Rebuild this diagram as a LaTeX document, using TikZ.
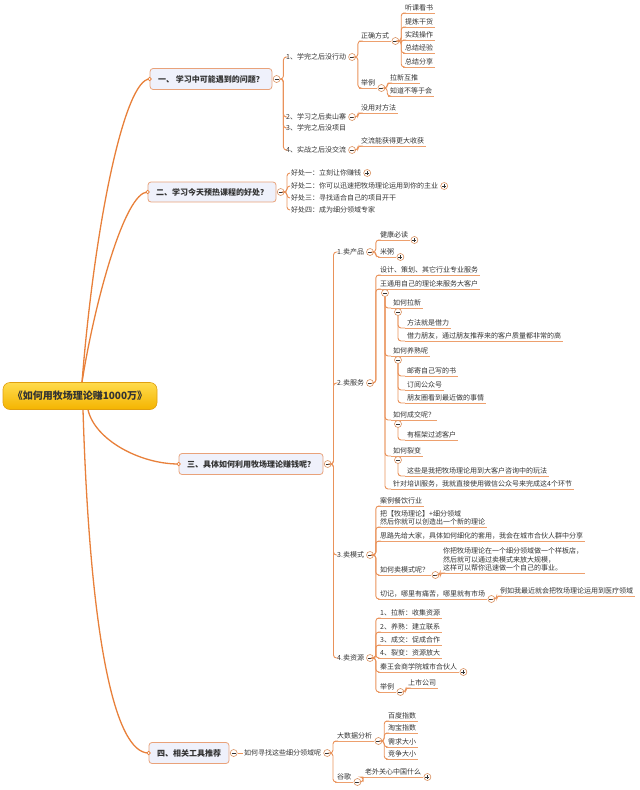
\documentclass[tikz,border=0pt]{standalone}
\usepackage{fontspec}
\setmainfont{Noto Sans CJK SC}
\usepackage{xcolor}
\usepackage{tikz}
\usetikzlibrary{positioning}

\definecolor{trunkC}{HTML}{E8803A}
\definecolor{lineC}{HTML}{E9925A}
\definecolor{ulC}{HTML}{EDA06E}
\definecolor{secF}{HTML}{EFF1FB}
\definecolor{secB}{HTML}{E9A27A}
\definecolor{rootT}{HTML}{FFDB4D}
\definecolor{rootB}{HTML}{F4B400}
\definecolor{rootD}{HTML}{E0A010}
\definecolor{txtC}{HTML}{333333}
\definecolor{togC}{HTML}{D9905F}

\newcommand{\itemfont}{\fontsize{7}{8.6}\selectfont}
\newcommand{\secfont}{\fontsize{8}{10}\selectfont\bfseries}
\newcommand{\rootfont}{\fontsize{10}{12}\selectfont\bfseries}

\tikzset{
  tog/.style={circle, draw=togC, fill=white, minimum size=7pt, inner sep=0pt, line width=0.6pt},
  minus/.style={tog, path picture={\draw[txtC, line width=0.6pt] ([xshift=-2pt]path picture bounding box.center) -- ([xshift=2pt]path picture bounding box.center);}},
  plus/.style={tog, path picture={\draw[txtC, line width=0.6pt] ([xshift=-2pt]path picture bounding box.center) -- ([xshift=2pt]path picture bounding box.center) ([yshift=-2pt]path picture bounding box.center) -- ([yshift=2pt]path picture bounding box.center);}},
}

\begin{document}
\begin{tikzpicture}[x=1pt, y=-1pt, font=\itemfont, text=txtC,
  root/.style={rounded corners=7pt, top color=rootT, bottom color=rootB, draw=rootD, line width=0.6pt, font=\rootfont, minimum width=154pt, minimum height=27pt},
  sec/.style={draw=secB, fill=secF, rounded corners=3pt, line width=0.8pt, font=\secfont, inner xsep=8pt, minimum height=21pt},
  trunk/.style={draw=trunkC, line width=1.3pt},
  conn/.style={draw=lineC, line width=0.9pt, rounded corners=3pt},
  lv/.style={anchor=west, inner sep=1pt},
  ul/.style={anchor=south west, inner xsep=2pt, inner ysep=1.3pt, align=left, append after command={(\tikzlastnode.south west) edge[draw=ulC, line width=0.8pt] (\tikzlastnode.south east)}},
  tip/.style={circle, draw=trunkC, fill=white, inner sep=0pt, minimum size=3.5pt, line width=0.7pt}]
\useasboundingbox (0,0) rectangle (640,790);

% root and the four sections
\node[root] (root) at (80,396) {《如何用牧场理论赚1000万》};
\node[sec] (s1) at (211,79) {一、 学习中可能遇到的问题？};
\node[sec, minimum height=20pt] (s2) at (212,192) {二、学习今天预热课程的好处？};
\node[sec] (s3) at (251,464) {三、具体如何利用牧场理论赚钱呢？};
\node[sec] (s4) at (189,753) {四、相关工具推荐};
\node[minus, right=0.5pt of s1] (s1t) {};
\node[minus, right=0.5pt of s2] (s2t) {};
\node[minus, right=0.5pt of s3] (s3t) {};
\node[minus, right=0.5pt of s4] (s4t) {};

\draw[trunk] ([xshift=2pt]root.north) .. controls (95,220) and (125,79) .. (s1.west);
\draw[trunk] ([xshift=2pt]root.north) .. controls (95,300) and (125,192) .. (s2.west);
\draw[trunk] ([xshift=8pt]root.south) .. controls (95,440) and (140,464) .. (s3.west);
\draw[trunk] ([xshift=3pt]root.south) .. controls (90,640) and (115,753) .. (s4.west);
\node[tip] (s1d) at (s1.west) {};
\node[tip] (s2d) at (s2.west) {};
\node[tip] (s3d) at (s3.west) {};
\node[tip] (s4d) at (s4.west) {};

% section 1
\node[lv] (a1) at (285,57) {1、学完之后没行动};
\node[minus, right=1pt of a1] (a1t) {};
\node[lv] (a2) at (285,117) {2、学习之后卖山寨};
\node[minus, right=1pt of a2] (a2t) {};
\node[lv] (a3) at (285,128) {3、学完之后没项目};
\node[lv] (a4) at (285,150) {4、实战之后没交流};
\node[minus, right=1pt of a4] (a4t) {};
\node[ul] (b1) at (359,41) {正确方式};
\node[minus] (b1t) at ([xshift=4pt]b1.south east) {};
\node[ul] (b2) at (359,88) {举例};
\node[minus] (b2t) at ([xshift=4pt]b2.south east) {};
\node[ul] (b11) at (403,13) {听课看书};
\node[ul] (b12) at (403,27) {提炼干货};
\node[ul] (b13) at (403,40) {实践操作};
\node[ul] (b14) at (403,53) {总结经验};
\node[ul] (b15) at (403,67) {总结分享};
\node[ul] (b21) at (388,83) {拉新互推};
\node[ul] (b22) at (388,96) {知道不等于会};
\node[ul] (a21) at (359,113) {没用对方法};
\node[ul] (a41) at (359,146) {交流能获得更大收获};
\draw[conn] (s1t.east) -- ++(3,0) |- (a1.west);
\draw[conn] (s1t.east) -- ++(3,0) |- (a2.west);
\draw[conn] (s1t.east) -- ++(3,0) |- (a3.west);
\draw[conn] (s1t.east) -- ++(3,0) |- (a4.west);
\draw[conn] (a1t.east) -- ++(2,0) |- (b1.south west);
\draw[conn] (a1t.east) -- ++(2,0) |- (b2.south west);
\draw[conn] (a2t.east) -- ++(2,0) |- (a21.south west);
\draw[conn] (a4t.east) -- ++(2,0) |- (a41.south west);
\draw[conn] (b1t.east) -- ++(2,0) |- (b11.south west);
\draw[conn] (b1t.east) -- ++(2,0) |- (b12.south west);
\draw[conn] (b1t.east) -- ++(2,0) |- (b13.south west);
\draw[conn] (b1t.east) -- ++(2,0) |- (b14.south west);
\draw[conn] (b1t.east) -- ++(2,0) |- (b15.south west);
\draw[conn] (b2t.east) -- ++(2,0) |- (b21.south west);
\draw[conn] (b2t.east) -- ++(2,0) |- (b22.south west);

% section 2
\node[lv] (c1) at (290,173) {好处一：立刻让你赚钱};
\node[plus, right=1pt of c1] (c1t) {};
\node[lv] (c2) at (290,186) {好处二：你可以迅速把牧场理论运用到你的主业};
\node[plus, right=1pt of c2] (c2t) {};
\node[lv] (c3) at (290,198) {好处三：寻找适合自己的项目开干};
\node[lv] (c4) at (290,210) {好处四：成为细分领域专家};
\draw[conn] (s2t.east) -- ++(2.5,0) |- (c1.west);
\draw[conn] (s2t.east) -- ++(2.5,0) |- (c2.west);
\draw[conn] (s2t.east) -- ++(2.5,0) |- (c3.west);
\draw[conn] (s2t.east) -- ++(2.5,0) |- (c4.west);

% section 3
\node[lv] (d1) at (336,252) {1.卖产品};
\node[minus, right=1pt of d1] (d1t) {};
\node[lv] (d2) at (336,383) {2.卖服务};
\node[minus, right=1pt of d2] (d2t) {};
\node[lv] (d3) at (336,555) {3.卖模式};
\node[minus, right=1pt of d3] (d3t) {};
\node[lv] (d4) at (336,658) {4.卖资源};
\node[minus, right=1pt of d4] (d4t) {};
\draw[conn] (s3t.east) -- ++(2,0) |- (d1.west);
\draw[conn] (s3t.east) -- ++(2,0) |- (d2.west);
\draw[conn] (s3t.east) -- ++(2,0) |- (d3.west);
\draw[conn] (s3t.east) -- ++(2,0) |- (d4.west);

\node[ul] (d11) at (378,240) {健康必读};
\node[plus] (d11t) at ([xshift=4pt]d11.south east) {};
\node[ul] (d12) at (378,257) {米粥};
\node[plus] (d12t) at ([xshift=4pt]d12.south east) {};
\draw[conn] (d1t.east) -- ++(2,0) |- (d11.south west);
\draw[conn] (d1t.east) -- ++(2,0) |- (d12.south west);

\node[ul] (e1) at (378,275) {设计、策划、其它行业专业服务};
\node[ul] (e2) at (378,289) {王通用自己的理论来服务大客户};
\node[ul] (f1) at (391,308) {如何拉新};
\node[ul] (f11) at (405,328) {方法就是借力};
\node[ul] (f12) at (405,341) {借力朋友，通过朋友推荐来的客户质量都非常的高};
\node[ul] (f2) at (391,356) {如何养熟呢};
\node[ul] (f21) at (405,376) {邮寄自己写的书};
\node[ul] (f22) at (405,390) {订阅公众号};
\node[ul] (f23) at (405,403) {朋友圈看到最近做的事情};
\node[ul] (f3) at (391,420) {如何成交呢？};
\node[ul] (f31) at (405,440) {有框架过滤客户};
\node[ul] (f4) at (391,456) {如何裂变};
\node[ul] (f41) at (405,476) {这些是我把牧场理论用到大客户咨询中的玩法};
\node[ul] (f5) at (391,489) {针对培训服务，我就直接使用微信公众号来完成这4个环节};
\node[minus] (e2t) at (385,293) {};
\node[minus] (f1t) at (398,312) {};
\node[minus] (f2t) at (398,360) {};
\node[minus] (f3t) at (398,424) {};
\node[minus] (f4t) at (398,460) {};
\draw[conn] (d2t.east) -- ++(2,0) |- (e1.south west);
\draw[conn] (d2t.east) -- ++(2,0) |- (e2.south west);
\draw[conn] (e2t.south) |- (f1.south west);
\draw[conn] (e2t.south) |- (f2.south west);
\draw[conn] (e2t.south) |- (f3.south west);
\draw[conn] (e2t.south) |- (f4.south west);
\draw[conn] (e2t.south) |- (f5.south west);
\draw[conn] (f1t.south) |- (f11.south west);
\draw[conn] (f1t.south) |- (f12.south west);
\draw[conn] (f2t.south) |- (f21.south west);
\draw[conn] (f2t.south) |- (f22.south west);
\draw[conn] (f2t.south) |- (f23.south west);
\draw[conn] (f3t.south) |- (f31.south west);
\draw[conn] (f4t.south) |- (f41.south west);

\node[ul] (g1) at (378,506) {案例餐饮行业};
\node[ul] (g2) at (378,527) {把【牧场理论】+细分领域\\然后你就可以创造出一个新的理论};
\node[ul] (g3) at (378,541) {思路先给大家，具体如何细化的套用，我会在城市合伙人群中分享};
\node[ul] (g4) at (378,575) {如何卖模式呢？};
\node[minus] (g4t) at ([xshift=4pt]g4.south east) {};
\node[ul] (g41) at (441,573) {你把牧场理论在一个细分领域做一个样板店，\\然后就可以通过卖模式来放大规模，\\这样可以帮你迅速做一个自己的事业。};
\node[ul] (g5) at (378,599) {切记，哪里有痛苦，哪里就有市场};
\node[minus] (g5t) at ([xshift=4pt]g5.south east) {};
\node[ul] (g51) at (498,596) {例如我最近就会把牧场理论运用到医疗领域};
\draw[conn] (d3t.east) -- ++(2,0) |- (g1.south west);
\draw[conn] (d3t.east) -- ++(2,0) |- (g2.south west);
\draw[conn] (d3t.east) -- ++(2,0) |- (g3.south west);
\draw[conn] (d3t.east) -- ++(2,0) |- (g4.south west);
\draw[conn] (d3t.east) -- ++(2,0) |- (g5.south west);
\draw[conn] (g4t.east) -- ++(1,0) |- (g41.south west);
\draw[conn] (g5t.east) -- ++(1.5,0) |- (g51.south west);

\node[ul] (h1) at (378,618) {1、拉新：收集资源};
\node[ul] (h2) at (378,632) {2、养熟：建立联系};
\node[ul] (h3) at (378,645) {3、成交：促成合作};
\node[ul] (h4) at (378,658) {4、裂变：资源放大};
\node[ul] (h5) at (378,672) {秦王会商学院城市合伙人};
\node[plus] (h5t) at ([xshift=4pt]h5.south east) {};
\node[ul] (h6) at (378,692) {举例};
\node[minus] (h6t) at ([xshift=4pt]h6.south east) {};
\node[ul] (h61) at (406,688) {上市公司};
\draw[conn] (d4t.east) -- ++(2,0) |- (h1.south west);
\draw[conn] (d4t.east) -- ++(2,0) |- (h2.south west);
\draw[conn] (d4t.east) -- ++(2,0) |- (h3.south west);
\draw[conn] (d4t.east) -- ++(2,0) |- (h4.south west);
\draw[conn] (d4t.east) -- ++(2,0) |- (h5.south west);
\draw[conn] (d4t.east) -- ++(2,0) |- (h6.south west);
\draw[conn] (h6t.east) -- ++(1.5,0) |- (h61.south west);

% section 4
\node[lv] (k1) at (243,753) {如何寻找这些细分领域呢};
\node[minus, right=1pt of k1] (k1t) {};
\node[ul] (m1) at (335,741) {大数据分析};
\node[minus] (m1t) at ([xshift=4pt]m1.south east) {};
\node[ul] (m11) at (386,721) {百度指数};
\node[ul] (m12) at (386,733) {淘宝指数};
\node[ul] (m13) at (386,747) {需求大小};
\node[ul] (m14) at (386,759) {竞争大小};
\node[ul] (m2) at (335,782) {谷歌};
\node[minus] (m2t) at ([xshift=4pt]m2.south east) {};
\node[ul] (m21) at (363,777) {老外关心中国什么};
\node[plus] (m21t) at ([xshift=4pt]m21.south east) {};
\draw[conn] (s4t.east) -- (k1.west);
\draw[conn] (k1t.east) -- ++(2,0) |- (m1.south west);
\draw[conn] (k1t.east) -- ++(2,0) |- (m2.south west);
\draw[conn] (m1t.east) -- ++(2,0) |- (m11.south west);
\draw[conn] (m1t.east) -- ++(2,0) |- (m12.south west);
\draw[conn] (m1t.east) -- ++(2,0) |- (m13.south west);
\draw[conn] (m1t.east) -- ++(2,0) |- (m14.south west);
\draw[conn] (m2t.east) -- ++(2,0) |- (m21.south west);
\end{tikzpicture}
\end{document}
